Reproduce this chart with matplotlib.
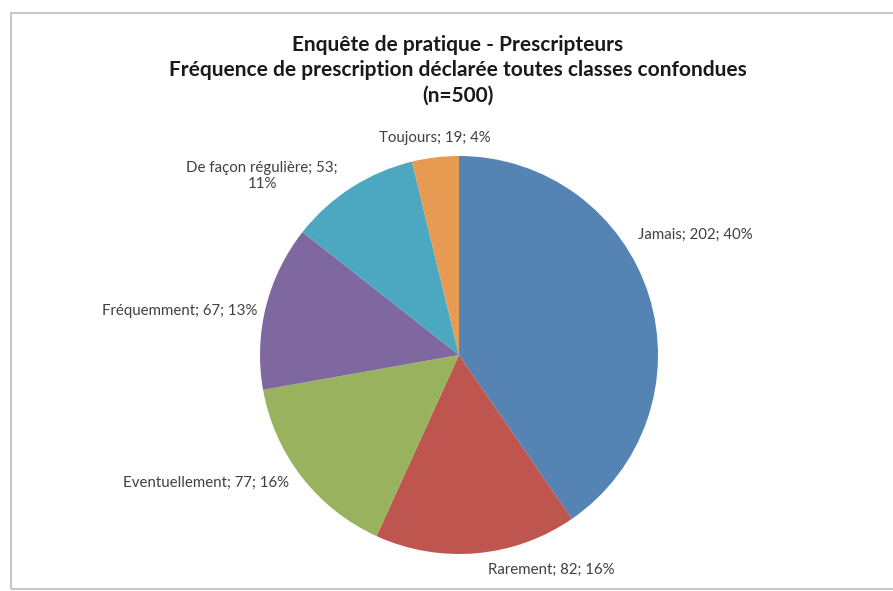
import matplotlib
matplotlib.use("Agg")
import matplotlib.pyplot as plt
from matplotlib.patches import Rectangle

categories = ["Jamais", "Rarement", "Eventuellement", "Fréquemment", "De façon régulière", "Toujours"]
values = [202, 82, 77, 67, 53, 19]
percents = ["40%", "16%", "16%", "13%", "11%", "4%"]
colors = ["#5483B4", "#BE554F", "#98B25E", "#7F68A0", "#4BA8C0", "#E69A52"]
title_lines = ["Enquête de pratique - Prescripteurs",
               "Fréquence de prescription déclarée toutes classes confondues",
               "(n=500)"]

plt.rcParams['font.family'] = ['Lato', 'DejaVu Sans']

W, H = 893, 591
fig = plt.figure(figsize=(W / 100, H / 100), dpi=100)
fig.patch.set_facecolor("white")

# outer chart border
fig.patches.append(Rectangle((11 / W, 1 - 589 / H), (W + 20 - 11) / W, (589 - 13) / H,
                             transform=fig.transFigure, fill=False,
                             edgecolor="#c8c8c8", linewidth=1.5))

cx, cy, r = 459, 355, 199
ax = fig.add_axes([(cx - r) / W, (H - cy - r) / H, 2 * r / W, 2 * r / H])
ax.pie(values, colors=colors, startangle=90, counterclock=False, radius=1,
       wedgeprops=dict(linewidth=0))
ax.set_xlim(-1, 1)
ax.set_ylim(-1, 1)
ax.set_aspect("auto")
ax.axis("off")

# label positions (pixel centers in the figure)
label_px = [(695, 235), (551, 570), (206, 483), (180, 311), (262, 176), (435, 138)]
for cat, v, p, (px, py) in zip(categories, values, percents, label_px):
    if cat == "De façon régulière":
        txt = f"{cat}; {v};\n{p}"
    else:
        txt = f"{cat}; {v}; {p}"
    ax.text((px - cx) / r, (cy - py) / r, txt, ha="center", va="center",
            fontsize=10.8, color="#404040", linespacing=1.2, clip_on=False)

for i, line in enumerate(title_lines):
    fig.text(458 / W, 1 - (45 + 25.5 * i) / H, line, ha="center", va="center",
             fontsize=15, fontweight="bold", color="#1a1a1a")

fig.savefig("out.png", dpi=100)
